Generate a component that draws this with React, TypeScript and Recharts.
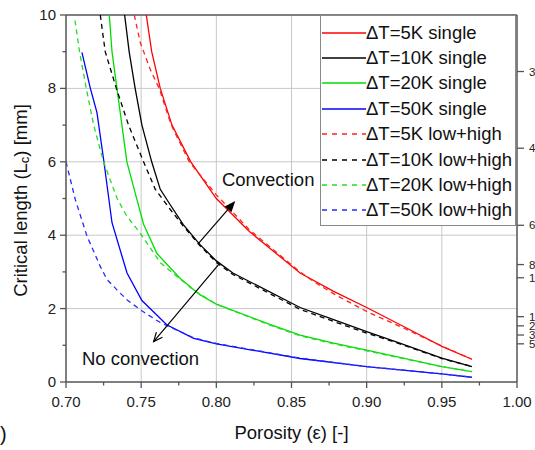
import React from "react";
import { LineChart, Line, XAxis, YAxis, ReferenceLine, ReferenceDot, Label } from "recharts";

const FONT = '"Liberation Sans", Arial, sans-serif';
const AXIS = "#555";
const GRID = "#c8c8c8";

// porosity (eps) vs critical length Lc [mm]
const eps5Single = [0.7534, 0.757, 0.7627, 0.7705, 0.783, 0.8, 0.811, 0.822, 0.8557, 0.878, 0.9, 0.9223, 0.95, 0.97];
const lc5Single = [10, 9.0, 8.0, 7.0, 6.0, 5.0, 4.55, 4.1, 2.97, 2.47, 2.03, 1.56, 0.97, 0.62];

const eps10Single = [0.739, 0.742, 0.746, 0.7505, 0.757, 0.7627, 0.769, 0.778, 0.789, 0.8, 0.811, 0.8557, 0.878, 0.9, 0.922, 0.95, 0.97];
const lc10Single = [10, 9, 8, 7, 6, 5.25, 4.85, 4.29, 3.75, 3.3, 2.97, 2.03, 1.7, 1.37, 1.06, 0.65, 0.42];

const eps20Single = [0.7288, 0.7306, 0.7339, 0.7372, 0.7405, 0.7472, 0.7516, 0.7605, 0.776, 0.789, 0.8, 0.8337, 0.8557, 0.878, 0.9, 0.922, 0.95, 0.97];
const lc20Single = [10, 9, 8, 7, 6, 4.97, 4.3, 3.5, 2.82, 2.38, 2.12, 1.6, 1.28, 1.06, 0.87, 0.67, 0.42, 0.28];

const eps50Single = [0.7106, 0.7162, 0.7206, 0.725, 0.7306, 0.7406, 0.7505, 0.767, 0.785, 0.8, 0.8557, 0.9, 0.922, 0.95, 0.97];
const lc50Single = [8.98, 8.0, 7.34, 6.07, 4.34, 2.97, 2.22, 1.56, 1.19, 1.04, 0.64, 0.42, 0.33, 0.22, 0.13];

const eps5Dual = [0.7454, 0.7494, 0.756, 0.762, 0.77, 0.782, 0.8, 0.822, 0.8557, 0.8646, 0.879, 0.901, 0.923, 0.95, 0.97];
const lc5Dual = [10, 9.25, 8.52, 8.0, 7.0, 6.0, 5.1, 4.15, 3.0, 2.74, 2.38, 1.9, 1.5, 0.98, 0.62];

const eps10Dual = [0.7228, 0.7261, 0.7335, 0.7416, 0.7516, 0.7594, 0.7694, 0.778, 0.789, 0.8, 0.811, 0.8557, 0.878, 0.9, 0.922, 0.95, 0.97];
const lc10Dual = [10, 9, 8, 7, 6, 5.25, 4.7, 4.25, 3.72, 3.26, 2.93, 1.98, 1.65, 1.33, 1.04, 0.64, 0.42];

const eps20Dual = [0.706, 0.709, 0.7135, 0.7184, 0.725, 0.734, 0.74, 0.7494, 0.763, 0.785, 0.8, 0.8337, 0.8557, 0.878, 0.9, 0.922, 0.95, 0.97];
const lc20Dual = [9.85, 9, 8, 7, 6, 5.0, 4.55, 4.05, 3.24, 2.5, 2.12, 1.58, 1.26, 1.04, 0.85, 0.66, 0.42, 0.28];

const eps50Dual = [0.7, 0.7062, 0.714, 0.7228, 0.7273, 0.7339, 0.7405, 0.7494, 0.7538, 0.7627, 0.785, 0.8, 0.8557, 0.9, 0.95, 0.97];
const lc50Dual = [6.0, 4.97, 3.97, 3.15, 2.79, 2.51, 2.24, 1.97, 1.85, 1.62, 1.2, 1.05, 0.65, 0.42, 0.22, 0.13];

const xMajorTicks = [0.7, 0.75, 0.8, 0.85, 0.9, 0.95, 1.0];
const xMinorTicks = [0.725, 0.775, 0.825, 0.875, 0.925, 0.975];
const yMajorTicks = [0, 2, 4, 6, 8, 10];
const yMinorTicks = [1, 3, 5, 7, 9];
const xGrid = [0.75, 0.8, 0.85, 0.9, 0.95];
const yGrid = [2, 4, 6, 8];

// right axis: only the first digit of each label shows at the image edge
const rightTicks = [8.46, 6.37, 4.27, 3.2, 2.84, 1.78, 1.53, 1.28, 1.04];
const rightLabels = ["3", "4", "6", "8", "1", "1", "2", "3", "5"];

// annotations
const convArrow = [{ x: 0.788, y: 3.77 }, { x: 0.8126, y: 4.93 }];
const noConvArrow = [{ x: 0.8015, y: 3.2 }, { x: 0.7583, y: 1.1 }];
const convText = { x: 0.8037, y: 5.33 };
const noConvText = { x: 0.7106, y: 0.46 };

const toPoints = (xs: number[], ys: number[]) => xs.map((x, i) => ({ x, y: ys[i] }));

const series = [
  { name: "ΔT=5K single", color: "#ff0000", dashed: false, data: toPoints(eps5Single, lc5Single) },
  { name: "ΔT=10K single", color: "#000000", dashed: false, data: toPoints(eps10Single, lc10Single) },
  { name: "ΔT=20K single", color: "#00dd00", dashed: false, data: toPoints(eps20Single, lc20Single) },
  { name: "ΔT=50K single", color: "#0000ff", dashed: false, data: toPoints(eps50Single, lc50Single) },
  { name: "ΔT=5K low+high", color: "#ff2020", dashed: true, data: toPoints(eps5Dual, lc5Dual) },
  { name: "ΔT=10K low+high", color: "#000000", dashed: true, data: toPoints(eps10Dual, lc10Dual) },
  { name: "ΔT=20K low+high", color: "#22dd22", dashed: true, data: toPoints(eps20Dual, lc20Dual) },
  { name: "ΔT=50K low+high", color: "#2828ff", dashed: true, data: toPoints(eps50Dual, lc50Dual) },
];

const isIn = (arr: number[], v: number) => arr.some((t) => Math.abs(t - v) < 1e-6);

function XTick(props: any) {
  const { x, y, payload } = props;
  const major = isIn(xMajorTicks, payload.value);
  return (
    <g>
      <line x1={x} y1={y} x2={x} y2={y + (major ? 6 : 3.5)} stroke={AXIS} strokeWidth={1.3} />
      {major && (
        <text x={x} y={y + 25} textAnchor="middle" fontSize={15} fill="#222" fontFamily={FONT}>
          {payload.value.toFixed(2)}
        </text>
      )}
    </g>
  );
}

function YTick(props: any) {
  const { x, y, payload } = props;
  const major = isIn(yMajorTicks, payload.value);
  return (
    <g>
      <line x1={x - (major ? 6 : 3.5)} y1={y} x2={x} y2={y} stroke={AXIS} strokeWidth={1.3} />
      {major && (
        <text x={x - 10} y={y + 5} textAnchor="end" fontSize={15} fill="#222" fontFamily={FONT}>
          {payload.value}
        </text>
      )}
    </g>
  );
}

function RightTick(props: any) {
  const { x, y, payload } = props;
  const i = rightTicks.findIndex((t) => Math.abs(t - payload.value) < 1e-6);
  return (
    <g>
      <line x1={x} y1={y} x2={x + 7} y2={y} stroke={AXIS} strokeWidth={1.3} />
      <text x={x + 12} y={y + 4} fontSize={11.5} fill="#222" fontFamily={FONT}>
        {rightLabels[i] ?? ""}
      </text>
    </g>
  );
}

const arrowShape = (filled: boolean) => (props: any) => {
  const { x1, y1, x2, y2 } = props;
  const a = Math.atan2(y2 - y1, x2 - x1);
  const len = filled ? 11 : 9;
  const half = filled ? 4.5 : 4;
  const bx = x2 - len * Math.cos(a);
  const by = y2 - len * Math.sin(a);
  const px = -Math.sin(a) * half;
  const py = Math.cos(a) * half;
  if (filled) {
    return (
      <g>
        <line x1={x1} y1={y1} x2={bx} y2={by} stroke="#000" strokeWidth={1.2} />
        <polygon points={`${x2},${y2} ${bx + px},${by + py} ${bx - px},${by - py}`} fill="#000" />
      </g>
    );
  }
  return (
    <g>
      <line x1={x1} y1={y1} x2={x2} y2={y2} stroke="#000" strokeWidth={1.2} />
      <polyline points={`${bx + px},${by + py} ${x2},${y2} ${bx - px},${by - py}`} fill="none" stroke="#000" strokeWidth={1.2} />
    </g>
  );
};

const textShape = (label: string) => (props: any) => (
  <text x={props.cx} y={props.cy} fontSize={18.5} fill="#111" fontFamily={FONT}>
    {label}
  </text>
);

function XTitle(props: any) {
  const { x, y, width } = props.viewBox;
  return (
    <text x={x + width / 2} y={y + 57} textAnchor="middle" fontSize={18.5} fill="#111" fontFamily={FONT}>
      Porosity (ε) [-]
    </text>
  );
}

function YTitle(props: any) {
  const { y, height } = props.viewBox;
  const cx = 20;
  const cy = y + height / 2 + 2;
  return (
    <text
      x={cx}
      y={cy}
      transform={`rotate(-90, ${cx}, ${cy})`}
      textAnchor="middle"
      dominantBaseline="central"
      fontSize={18.5}
      fill="#111"
      fontFamily={FONT}
    >
      Critical length (L<tspan dy={4} fontSize={13}>c</tspan>
      <tspan dy={-4}>) [mm]</tspan>
    </text>
  );
}

function LegendBox() {
  return (
    <div
      style={{
        position: "absolute",
        left: 320,
        top: 15,
        width: 196,
        height: 211,
        border: "1px solid #8a8a8a",
        background: "#fff",
        paddingTop: 4,
        boxSizing: "border-box",
        fontFamily: FONT,
        fontSize: 18.5,
        color: "#111",
      }}
    >
      {series.map((s) => (
        <div key={s.name} style={{ height: 25.4, display: "flex", alignItems: "center", whiteSpace: "nowrap" }}>
          <svg width={44} height={4} style={{ marginLeft: 1 }}>
            <line x1={0} y1={2} x2={44} y2={2} stroke={s.color} strokeWidth={1.3} strokeDasharray={s.dashed ? "5 5" : undefined} />
          </svg>
          <span>{s.name}</span>
        </div>
      ))}
    </div>
  );
}

export default function App() {
  return (
    <div
      style={{
        position: "absolute",
        left: 0,
        top: 0,
        width: 535,
        height: 450,
        overflow: "hidden",
        background: "#fff",
        fontFamily: FONT,
      }}
    >
      <LineChart width={580} height={450} margin={{ top: 15, right: 23, bottom: 38, left: 0 }}>
        {xGrid.map((v) => (
          <ReferenceLine key={`gx${v}`} x={v} stroke={GRID} strokeWidth={1} />
        ))}
        {yGrid.map((v) => (
          <ReferenceLine key={`gy${v}`} y={v} stroke={GRID} strokeWidth={1} />
        ))}
        <XAxis
          dataKey="x"
          type="number"
          domain={[0.7, 1.0]}
          ticks={[...xMajorTicks, ...xMinorTicks].sort((a, b) => a - b)}
          interval={0}
          tickSize={0}
          tickMargin={0}
          tickLine={false}
          tick={<XTick />}
          height={30}
          allowDataOverflow
          axisLine={{ stroke: AXIS, strokeWidth: 1.5 }}
        >
          <Label content={XTitle} />
        </XAxis>
        <YAxis
          type="number"
          domain={[0, 10]}
          ticks={[...yMajorTicks, ...yMinorTicks].sort((a, b) => a - b)}
          interval={0}
          tickSize={0}
          tickMargin={0}
          tickLine={false}
          tick={<YTick />}
          width={66}
          allowDataOverflow
          axisLine={{ stroke: AXIS, strokeWidth: 1.5 }}
        >
          <Label content={YTitle} />
        </YAxis>
        <YAxis
          yAxisId="right"
          orientation="right"
          type="number"
          domain={[0, 10]}
          ticks={rightTicks}
          interval={0}
          tickSize={0}
          tickMargin={0}
          tickLine={false}
          tick={<RightTick />}
          width={40}
          allowDataOverflow
          axisLine={{ stroke: AXIS, strokeWidth: 1.5 }}
        />
        <ReferenceLine y={10} stroke={AXIS} strokeWidth={1.5} />
        {series.map((s) => (
          <Line
            key={s.name}
            name={s.name}
            data={s.data}
            dataKey="y"
            type="linear"
            stroke={s.color}
            strokeWidth={1.3}
            strokeDasharray={s.dashed ? "5 4" : undefined}
            dot={false}
            activeDot={false}
            isAnimationActive={false}
          />
        ))}
        <ReferenceLine segment={convArrow} shape={arrowShape(true)} />
        <ReferenceLine segment={noConvArrow} shape={arrowShape(false)} />
        <ReferenceDot x={convText.x} y={convText.y} r={0} shape={textShape("Convection")} />
        <ReferenceDot x={noConvText.x} y={noConvText.y} r={0} shape={textShape("No convection")} />
      </LineChart>
      <LegendBox />
      <div style={{ position: "absolute", left: 0, top: 424, fontSize: 20, lineHeight: "20px", color: "#111" }}>)</div>
    </div>
  );
}
